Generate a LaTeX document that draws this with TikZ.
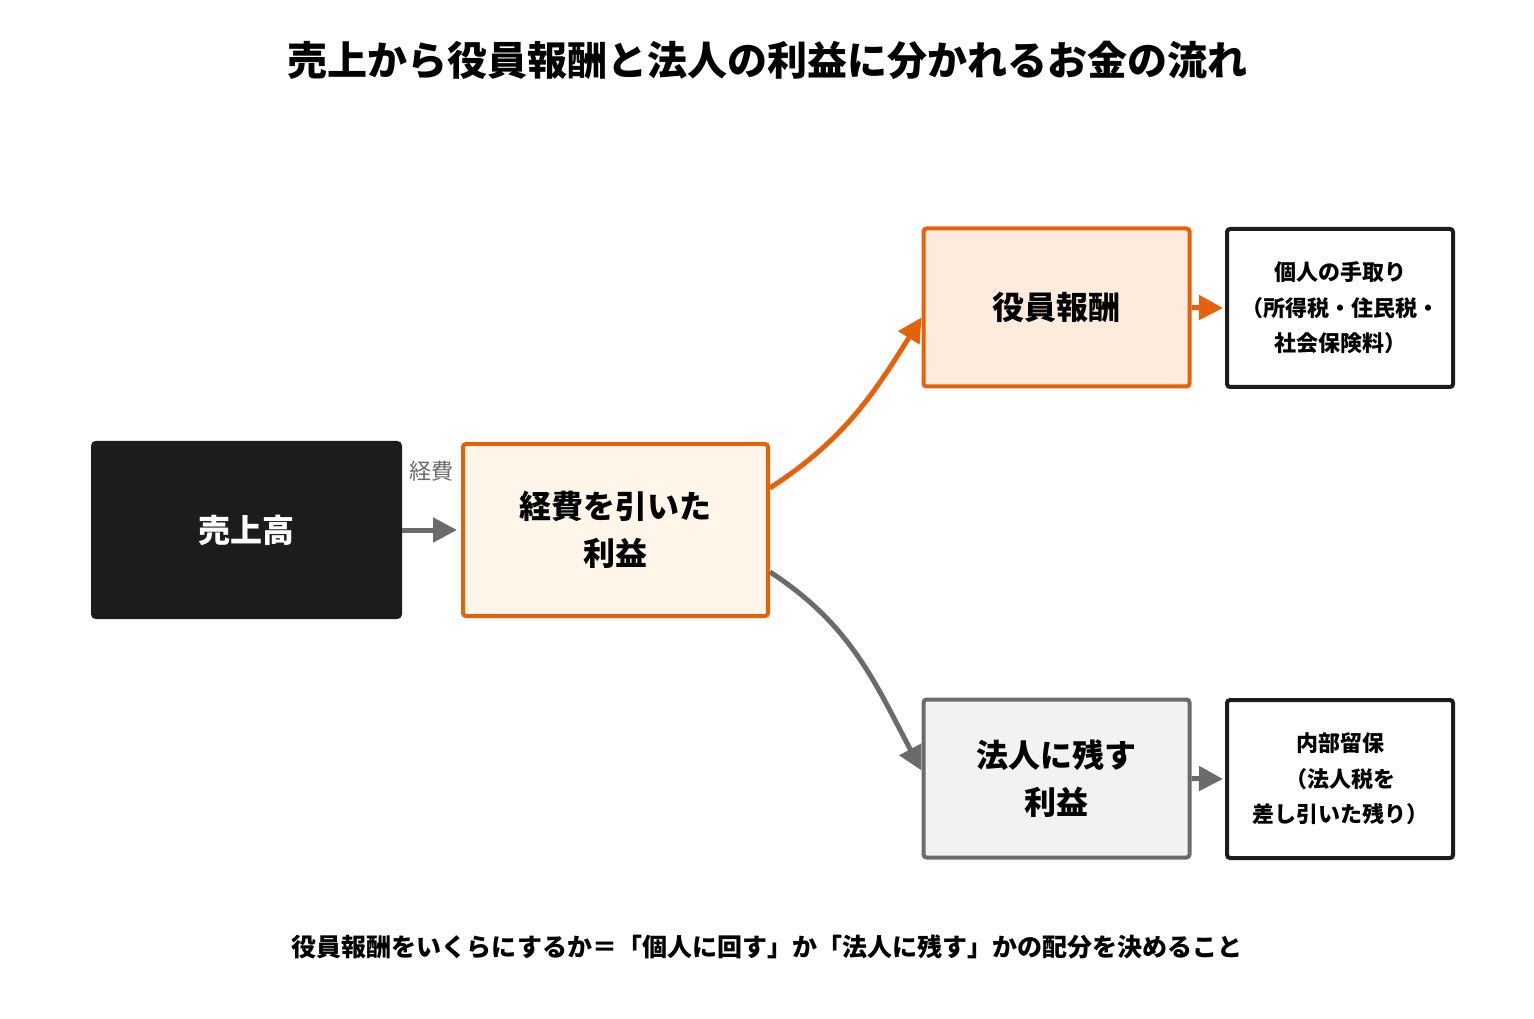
\documentclass[tikz,border=0pt]{standalone}
\usepackage{fontspec}
\setmainfont{Noto Sans CJK JP}
\usepackage{tikz}
\usetikzlibrary{arrows.meta}
\definecolor{orng}{HTML}{E5620A}
\definecolor{grayline}{HTML}{6B6B6B}
\definecolor{darkbox}{HTML}{1C1C1C}
\definecolor{creamfill}{HTML}{FFF6E9}
\definecolor{peachfill}{HTML}{FDEBDC}
\definecolor{lightfill}{HTML}{F2F2F2}
\begin{document}
\begin{tikzpicture}[x=0.5pt,y=0.5pt]
  \tikzstyle{bigbox}=[rectangle,rounded corners=1.5pt,line width=2pt,align=center,font=\fontsize{16pt}{23.5pt}\selectfont\bfseries,minimum width=133pt,minimum height=79pt]
  \tikzstyle{notebox}=[rectangle,rounded corners=1.5pt,draw=darkbox,line width=2pt,fill=white,align=center,font=\fontsize{11pt}{17.75pt}\selectfont\bfseries,minimum width=113pt,minimum height=79pt]
  \tikzstyle{flow}=[line width=2.5pt,-{Triangle[length=12pt,width=12pt]}]
  \useasboundingbox (0,0) rectangle (1534,1018);
\node (title) at (767,958) {\fontsize{20pt}{24pt}\selectfont\bfseries 売上から役員報酬と法人の利益に分かれるお金の流れ};
\node[bigbox,fill=darkbox,draw=darkbox,text=white,minimum width=153.5pt,minimum height=87pt] (uriage) at (246.5,488) {売上高};
\node[bigbox,fill=creamfill,draw=orng,minimum width=152.5pt,minimum height=86pt] (keihi) at (615.5,488) {経費を引いた\\利益};
\node[bigbox,fill=peachfill,draw=orng] (yakuin) at (1056.5,710.5) {役員報酬};
\node[bigbox,fill=lightfill,draw=grayline] (hojin) at (1056.5,239.5) {法人に残す\\利益};
\node[notebox] (kojin) at (1340,710) {個人の手取り\\（所得税・住民税・\\社会保険料）};
\node[notebox] (naibu) at (1340,239) {内部留保\\（法人税を\\差し引いた残り）};
\node (note) at (767,71) {\fontsize{12.5pt}{15pt}\selectfont\bfseries 役員報酬をいくらにするか＝「個人に回す」か「法人に残す」かの配分を決めること};
% connectors
\draw[flow,grayline,shorten >=2pt] (uriage.east) -- (keihi.west)
  node[midway,above=20pt,text=grayline,font=\fontsize{11pt}{13pt}\selectfont] (keihilabel) {経費};
\draw[flow,orng] ([yshift=21pt]keihi.east) to[out=33,in=238] ([yshift=-5pt]yakuin.west);
\draw[flow,grayline] ([yshift=-21pt]keihi.east) to[out=-33,in=118] ([yshift=4pt]hojin.west);
\draw[flow,orng,shorten >=1pt] (yakuin.east) -- (kojin.west);
\draw[flow,grayline,shorten >=1pt] (hojin.east) -- (naibu.west);
\end{tikzpicture}
\end{document}
